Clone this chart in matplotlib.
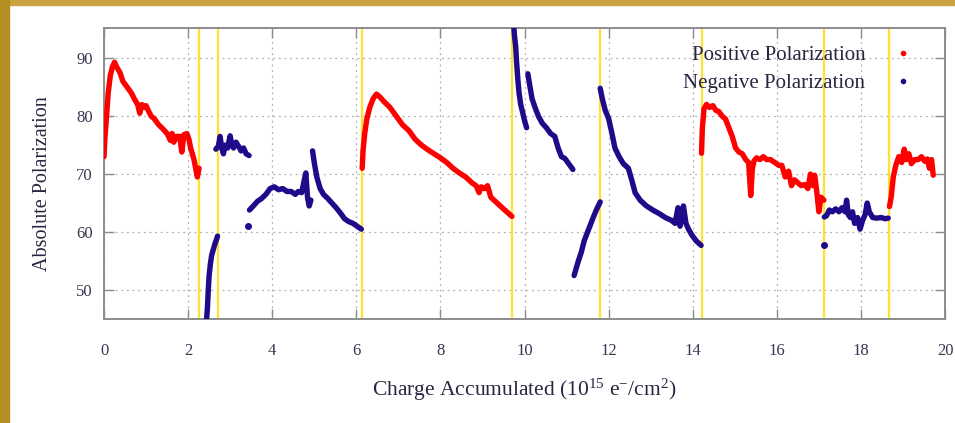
import matplotlib
matplotlib.use('Agg')
import matplotlib.pyplot as plt
from matplotlib.lines import Line2D
from matplotlib.patches import Rectangle

# Positive polarization runs (red)
pos1_x = [0.00, 0.02, 0.06, 0.10, 0.15, 0.20, 0.25, 0.30, 0.38, 0.45, 0.55, 0.65, 0.72, 0.80,
          0.85, 0.90, 0.95, 1.00, 1.05, 1.12, 1.20, 1.30, 1.40, 1.50, 1.58, 1.62, 1.66, 1.72,
          1.80, 1.85, 1.90, 1.97, 2.02, 2.06, 2.10, 2.14, 2.18, 2.22, 2.26]
pos1_y = [73.0, 76.0, 80.0, 84.0, 87.0, 88.5, 89.3, 88.5, 87.5, 86.0, 85.0, 84.0, 83.0, 82.0,
          80.5, 82.0, 81.5, 81.8, 81.0, 80.0, 79.5, 78.5, 77.8, 77.0, 75.8, 77.0, 75.5, 76.5,
          76.5, 73.8, 76.8, 77.0, 76.0, 74.5, 73.5, 72.5, 71.0, 69.5, 71.0]

pos2_x = [6.14, 6.16, 6.20, 6.25, 6.32, 6.40, 6.48, 6.56, 6.66, 6.80, 6.95, 7.10, 7.25, 7.40,
          7.55, 7.70, 7.85, 8.00, 8.15, 8.30, 8.45, 8.60, 8.75, 8.85, 8.92, 8.97, 9.05, 9.12,
          9.20, 9.35, 9.50, 9.70]
pos2_y = [71.0, 74.0, 77.0, 79.5, 81.5, 83.0, 83.8, 83.3, 82.5, 81.5, 80.0, 78.5, 77.5, 76.0,
          75.0, 74.2, 73.5, 72.8, 72.0, 71.0, 70.2, 69.5, 68.5, 68.0, 66.8, 67.8, 67.5, 68.0,
          66.0, 65.0, 64.0, 62.7]

pos3_x = [14.21, 14.23, 14.27, 14.33, 14.40, 14.48, 14.55, 14.62, 14.70, 14.78, 14.86, 14.94,
          15.02, 15.10, 15.18, 15.26, 15.33, 15.38, 15.42, 15.46, 15.52, 15.60, 15.68, 15.76,
          15.85, 15.95, 16.05, 16.12, 16.20, 16.28, 16.35, 16.42, 16.50, 16.58, 16.66, 16.74,
          16.80, 16.86, 16.90, 16.95, 17.00, 17.05, 17.12]
pos3_y = [73.6, 78.0, 81.3, 82.0, 81.5, 81.8, 81.0, 80.8, 80.0, 79.5, 78.0, 76.5,
          74.5, 73.8, 73.5, 72.5, 72.0, 66.3, 71.0, 72.3, 72.8, 72.5, 73.0, 72.5,
          72.5, 72.0, 71.5, 71.5, 69.5, 70.5, 68.0, 69.0, 68.5, 68.0, 68.2, 67.5,
          70.0, 68.0, 69.8, 67.0, 63.5, 66.0, 65.5]

pos4_x = [18.68, 18.72, 18.77, 18.83, 18.90, 18.97, 19.03, 19.08, 19.14, 19.20, 19.28, 19.36,
          19.44, 19.52, 19.58, 19.63, 19.68, 19.72]
pos4_y = [64.4, 66.0, 69.5, 71.5, 73.0, 72.0, 74.3, 72.5, 73.5, 71.8, 72.5, 72.5,
          73.0, 72.2, 72.6, 71.0, 72.5, 69.8]

# Negative polarization runs (blue)
neg1_x = [2.44, 2.46, 2.48, 2.50, 2.53, 2.56, 2.60, 2.64, 2.68, 2.70]
neg1_y = [45.0, 47.0, 50.0, 52.5, 54.5, 56.0, 57.0, 58.0, 58.8, 59.3]

neg2_x = [2.66, 2.72, 2.76, 2.80, 2.84, 2.88, 2.94, 3.00, 3.04, 3.08, 3.14, 3.20, 3.26, 3.32,
          3.38, 3.45]
neg2_y = [74.3, 74.8, 76.5, 74.5, 73.5, 75.0, 74.5, 76.6, 75.0, 74.5, 75.5, 74.8, 74.0, 74.5,
          73.5, 73.2]

neg3_x = [3.46, 3.55, 3.65, 3.75, 3.85, 3.95, 4.05, 4.15, 4.25, 4.35, 4.45, 4.55, 4.62,
          4.70, 4.75, 4.80, 4.84, 4.88, 4.92]
neg3_y = [63.8, 64.5, 65.3, 65.8, 66.5, 67.5, 67.8, 67.3, 67.5, 67.0, 67.0, 66.5, 67.0,
          66.8, 68.5, 70.2, 66.0, 64.5, 65.5]

neg4_x = [4.96, 5.00, 5.06, 5.14, 5.22, 5.32, 5.42, 5.52, 5.62, 5.72, 5.82, 5.92, 6.02, 6.12]
neg4_y = [74.0, 72.0, 69.5, 67.5, 66.5, 65.8, 65.0, 64.2, 63.3, 62.3, 61.8, 61.5, 61.0, 60.5]

neg5_x = [9.74, 9.76, 9.79, 9.81, 9.84, 9.87, 9.91, 9.96, 10.01, 10.05]
neg5_y = [96.0, 94.0, 92.0, 89.5, 86.5, 84.0, 82.0, 80.5, 79.0, 78.0]

neg6_x = [10.08, 10.12, 10.18, 10.25, 10.33, 10.42, 10.52, 10.62, 10.72, 10.80, 10.88, 10.96,
          11.05, 11.15]
neg6_y = [87.3, 85.5, 83.0, 81.5, 80.0, 78.8, 78.0, 77.0, 76.5, 74.5, 73.0, 72.7,
          71.8, 70.8]

neg7_x = [11.18, 11.22, 11.28, 11.35, 11.42, 11.50, 11.58, 11.65, 11.72, 11.80]
neg7_y = [52.5, 53.5, 55.0, 56.5, 58.5, 60.0, 61.5, 62.8, 64.0, 65.2]

neg8_x = [11.80, 11.85, 11.92, 12.00, 12.08, 12.15, 12.25, 12.35, 12.47, 12.55, 12.63, 12.75,
          12.90, 13.05, 13.20, 13.35, 13.50, 13.58, 13.65, 13.70, 13.78, 13.84, 13.90, 13.98,
          14.08, 14.20]
neg8_y = [84.8, 83.0, 81.0, 79.6, 77.0, 74.5, 73.0, 71.8, 71.0, 69.0, 66.8, 65.5,
          64.5, 63.8, 63.2, 62.5, 62.0, 61.5, 64.2, 61.0, 64.5, 61.5, 60.5, 59.5,
          58.5, 57.7]

neg9_x = [17.13, 17.18, 17.25, 17.32, 17.40, 17.48, 17.55, 17.62, 17.66, 17.70, 17.75, 17.80,
          17.85, 17.92, 17.98, 18.04, 18.10, 18.15, 18.20, 18.28, 18.38, 18.48, 18.58, 18.65]
neg9_y = [62.6, 62.8, 63.8, 63.5, 64.0, 63.5, 64.2, 63.5, 65.5, 63.0, 62.5, 63.5,
          61.5, 62.5, 60.5, 62.0, 63.0, 65.0, 63.5, 62.5, 62.4, 62.5, 62.3, 62.4]

# stray single points
neg_dot_x = [3.43, 17.12]
neg_dot_y = [61.0, 57.8]

# Polarity flips
flip_x = [2.26, 2.71, 6.14, 9.70, 11.79, 14.21, 17.13, 18.66]

pos_runs = [(pos1_x, pos1_y), (pos2_x, pos2_y), (pos3_x, pos3_y), (pos4_x, pos4_y)]
neg_runs = [(neg1_x, neg1_y), (neg2_x, neg2_y), (neg3_x, neg3_y), (neg4_x, neg4_y),
            (neg5_x, neg5_y), (neg6_x, neg6_y), (neg7_x, neg7_y), (neg8_x, neg8_y),
            (neg9_x, neg9_y)]

RED = '#ff0000'
BLUE = '#1f0a8a'
YELLOW = '#ffe22e'
GRID = '#b0b0b0'
FRAME = '#8c8c8c'
TEXT = '#2a2540'

plt.rcParams['font.family'] = ['Liberation Serif', 'DejaVu Serif']
plt.rcParams['mathtext.fontset'] = 'custom'
plt.rcParams['mathtext.rm'] = 'Liberation Serif'
plt.rcParams['mathtext.it'] = 'Liberation Serif'

fig = plt.figure(figsize=(9.55, 4.23), dpi=100)
fig.patch.set_facecolor('white')

# slide border
fig.patches.append(Rectangle((0, 1 - 5 / 423), 1, 5 / 423, transform=fig.transFigure,
                             color='#c9a440', zorder=0))
fig.patches.append(Rectangle((0, 0), 9 / 955, 1, transform=fig.transFigure,
                             color='#b58f22', zorder=0))

ax = fig.add_axes([104 / 955, 1 - 319 / 423, 841 / 955, 291 / 423])

for xv in flip_x:
    ax.axvline(xv, color=YELLOW, lw=1.6, zorder=2)

for xs, ys in pos_runs:
    ax.plot(xs, ys, color=RED, lw=3.9, solid_capstyle='round', solid_joinstyle='round', zorder=3)
for xs, ys in neg_runs:
    ax.plot(xs, ys, color=BLUE, lw=3.9, solid_capstyle='round', solid_joinstyle='round', zorder=3)
ax.plot(neg_dot_x, neg_dot_y, 'o', color=BLUE, ms=4, zorder=3)

ax.set_xlim(0, 20)
ax.set_ylim(45, 95.2)
ax.set_xticks(range(0, 21, 2))
ax.set_yticks([50, 60, 70, 80, 90])
ax.grid(True, color=GRID, linestyle=(0, (1.5, 3)), lw=0.9, zorder=1)
ax.tick_params(direction='in', length=7, width=1, color=FRAME, top=True, right=True,
               labelsize=12, labelcolor='#3a3550')
ax.tick_params(axis='x', pad=17)
ax.tick_params(axis='y', pad=8)
for sp in ax.spines.values():
    sp.set_color(FRAME)
    sp.set_linewidth(1.4)

ax.set_xlabel(r'Charge Accumulated (10$^{15}$ e$^{-}$/cm$^{2}$)', fontsize=15.5,
              color=TEXT, labelpad=13)
ax.set_ylabel('Absolute Polarization', fontsize=14.5, color=TEXT)
ax.yaxis.set_label_coords(-0.062, 0.465)

handles = [Line2D([], [], color=RED, marker='o', ms=3, lw=0),
           Line2D([], [], color=BLUE, marker='o', ms=3, lw=0)]
ax.legend(handles, ['Positive Polarization', 'Negative Polarization'], loc='upper right',
          bbox_to_anchor=(0.987, 1.005), frameon=False, markerfirst=False, fontsize=15,
          handlelength=1.2, handletextpad=1.2, labelspacing=0.42, labelcolor=TEXT)

fig.savefig('out.png', dpi=100)
